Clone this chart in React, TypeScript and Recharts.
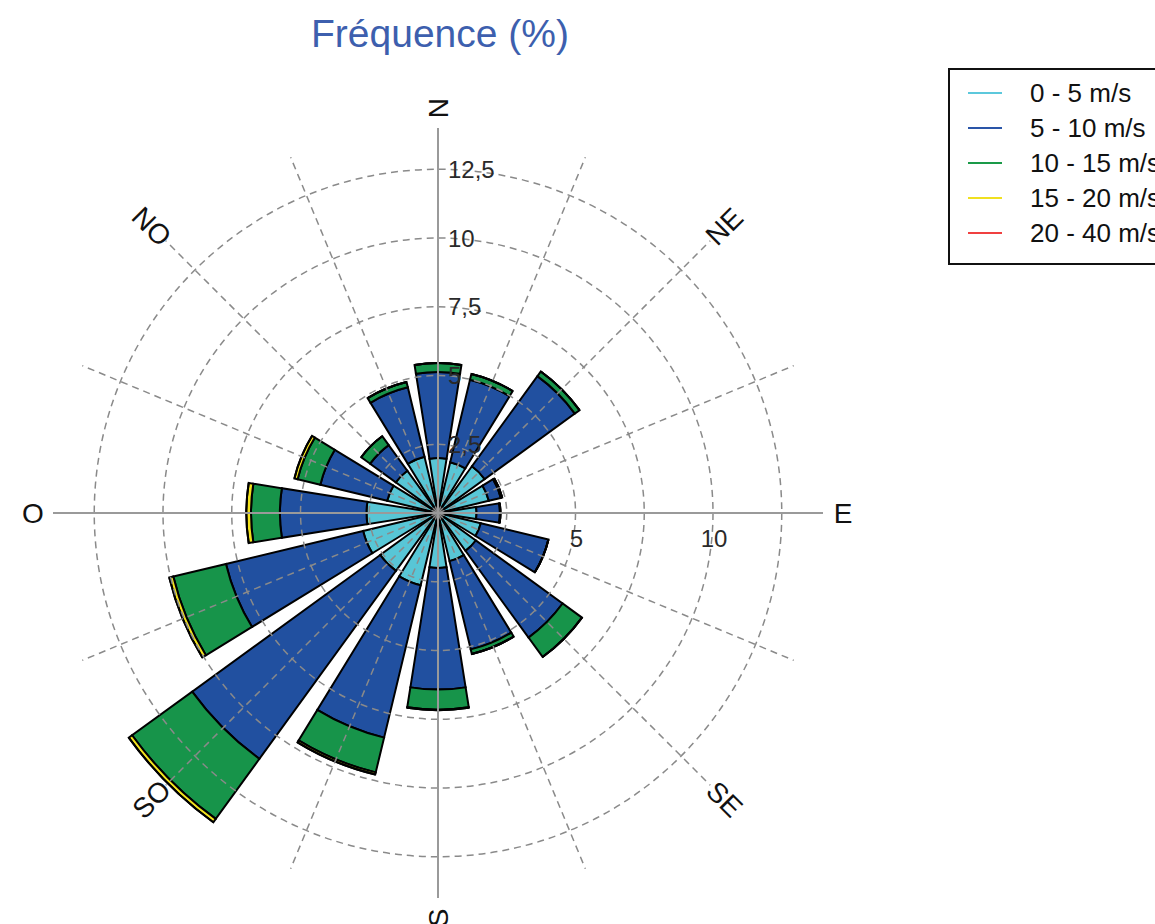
import React from 'react';
import { RadialBarChart, RadialBar, PolarGrid, PolarAngleAxis, PolarRadiusAxis } from 'recharts';

// Directions (French compass, clockwise from North)
const DIRECTIONS = ['N', 'NNE', 'NE', 'ENE', 'E', 'ESE', 'SE', 'SSE', 'S', 'SSO', 'SO', 'OSO', 'O', 'ONO', 'NO', 'NNO'];

// Frequency (%) per speed class, per direction
const SPEED_0_5 = [2.0, 1.9, 2.1, 1.9, 1.4, 1.6, 1.7, 1.8, 2.0, 2.7, 2.6, 2.8, 2.6, 1.9, 1.9, 2.1];
const SPEED_5_10 = [3.13, 3.08, 4.05, 0.45, 0.85, 2.53, 3.9, 3.3, 4.42, 5.7, 8.45, 5.13, 3.15, 2.5, 1.15, 2.6];
const SPEED_10_15 = [0.32, 0.22, 0.21, 0.05, 0.02, 0, 0.87, 0.17, 0.73, 1.3, 2.7, 1.97, 1.05, 0.85, 0.4, 0.2];
const SPEED_15_20 = [0, 0, 0, 0, 0, 0, 0, 0, 0.02, 0.08, 0.15, 0.15, 0.17, 0.12, 0, 0];
const SPEED_20_40 = [0, 0, 0, 0, 0, 0, 0, 0, 0, 0, 0, 0, 0, 0, 0, 0];

const SERIES_KEYS = ['s0', 's1', 's2', 's3', 's4'];
const SERIES_NAMES = ['0 - 5 m/s', '5 - 10 m/s', '10 - 15 m/s', '15 - 20 m/s', '20 - 40 m/s'];
const SERIES_COLORS = ['#58c6d6', '#2150a0', '#17944a', '#f2e21e', '#f03a3a'];
const LEGEND_COLORS = ['#5cc8dc', '#2a55a8', '#1a9a48', '#f0e020', '#f04040'];

const RADIUS_TICKS = [0, 2.5, 5, 7.5, 10, 12.5];
const N_AXIS_LABELS = [2.5, 5, 7.5, 10, 12.5];
const E_AXIS_LABELS = [5, 10];
const COMPASS_LABELS = ['N', 'NE', 'E', 'SE', 'S', 'SO', 'O', 'NO'];

const TITLE = 'Fréquence (%)';

const data = DIRECTIONS.map((dir, i) => ({
  dir,
  s0: SPEED_0_5[i],
  s1: SPEED_5_10[i],
  s2: SPEED_10_15[i],
  s3: SPEED_15_20[i],
  s4: SPEED_20_40[i],
}));

const FONT = '"Liberation Sans", Arial, sans-serif';
const CX = 438;
const CY = 513;
const OUTER = 385;
const STEP = 360 / DIRECTIONS.length;
const fmt = (v: number) => String(v).replace('.', ',');

// grid spokes through the centre of every direction (Recharts angle: 0 = east, counter-clockwise)
const SPOKE_ANGLES = DIRECTIONS.map((_, i) => 90 - i * STEP);
const AXIS_ANGLES = [90, 0, -90, 180];

const CompassTick = (props: any) => {
  const { payload } = props;
  const label = payload.value as string;
  if (!COMPASS_LABELS.includes(label)) return <g />;
  const i = DIRECTIONS.indexOf(label);
  const compass = i * STEP;
  const rad = (compass * Math.PI) / 180;
  const r = OUTER + 20;
  const x = CX + r * Math.sin(rad);
  const y = CY - r * Math.cos(rad);
  let rot = (((compass - 90) % 180) + 180) % 180;
  if (rot >= 90) rot -= 180;
  return (
    <text
      x={x}
      y={y}
      textAnchor="middle"
      dominantBaseline="central"
      transform={`rotate(${rot}, ${x}, ${y})`}
      fontFamily={FONT}
      fontSize={28}
      fill="#111"
    >
      {label}
    </text>
  );
};

// radius axis drawn along North; the same scale position is reused for the East labels
const RadiusTick = (props: any) => {
  const { x, y, payload } = props;
  const v = payload.value as number;
  const dist = CY - y;
  return (
    <g>
      {N_AXIS_LABELS.includes(v) && (
        <text x={x + 10} y={y} textAnchor="start" dominantBaseline="central" fontFamily={FONT} fontSize={24} fill="#2a2a2a">
          {fmt(v)}
        </text>
      )}
      {E_AXIS_LABELS.includes(v) && (
        <text x={CX + dist + 1} y={CY + 25} textAnchor="middle" dominantBaseline="central" fontFamily={FONT} fontSize={24} fill="#2a2a2a">
          {fmt(v)}
        </text>
      )}
    </g>
  );
};

export default function App() {
  return (
    <div style={{ position: 'relative', width: 1155, height: 924, overflow: 'hidden', background: '#fff' }}>
      <style>{`body{margin:0;}`}</style>
      <div
        style={{
          position: 'absolute',
          left: 240,
          width: 400,
          top: 14,
          textAlign: 'center',
          fontFamily: FONT,
          fontSize: 39,
          lineHeight: 1,
          color: '#3d5fae',
          zIndex: 2,
        }}
      >
        {TITLE}
      </div>
      <RadialBarChart
        width={1155}
        height={924}
        data={data}
        layout="centric"
        cx={CX}
        cy={CY}
        innerRadius={0}
        outerRadius={OUTER}
        startAngle={90 - STEP / 2}
        endAngle={90 - STEP / 2 - 360}
        barCategoryGap="10%"
        margin={{ top: 0, right: 0, bottom: 0, left: 0 }}
      >
        <PolarAngleAxis
          type="category"
          dataKey="dir"
          axisLine={false}
          tickLine={false}
          tickSize={20}
          tick={<CompassTick />}
        />
        {SERIES_KEYS.map((k, i) => (
          <RadialBar
            key={k}
            dataKey={k}
            name={SERIES_NAMES[i]}
            stackId="wind"
            fill={SERIES_COLORS[i]}
            stroke="#000"
            strokeWidth={2}
            isAnimationActive={false}
          />
        ))}
        <PolarGrid
          gridType="circle"
          polarAngles={SPOKE_ANGLES}
          stroke="#8a8a8a"
          strokeWidth={1.5}
          strokeDasharray="7 5"
          zIndex={450}
        />
        <PolarGrid
          gridType="polygon"
          polarAngles={AXIS_ANGLES}
          polarRadius={[]}
          stroke="#9a9a9a"
          strokeWidth={2}
          zIndex={460}
        />
        <PolarRadiusAxis
          type="number"
          domain={[0, 14]}
          ticks={RADIUS_TICKS}
          angle={90}
          axisLine={false}
          tick={<RadiusTick />}
        />
      </RadialBarChart>
      <div
        style={{
          position: 'absolute',
          left: 948,
          top: 68,
          width: 240,
          height: 197,
          boxSizing: 'border-box',
          border: '2px solid #111',
          paddingTop: 5.5,
          paddingLeft: 18,
          fontFamily: FONT,
          fontSize: 26,
          color: '#111',
          background: '#fff',
        }}
      >
        {SERIES_NAMES.map((name, i) => (
          <div key={name} style={{ display: 'flex', alignItems: 'center', height: 35, whiteSpace: 'nowrap' }}>
            <div style={{ width: 34, height: 2, background: LEGEND_COLORS[i], marginRight: 28 }} />
            <span>{name}</span>
          </div>
        ))}
      </div>
    </div>
  );
}
